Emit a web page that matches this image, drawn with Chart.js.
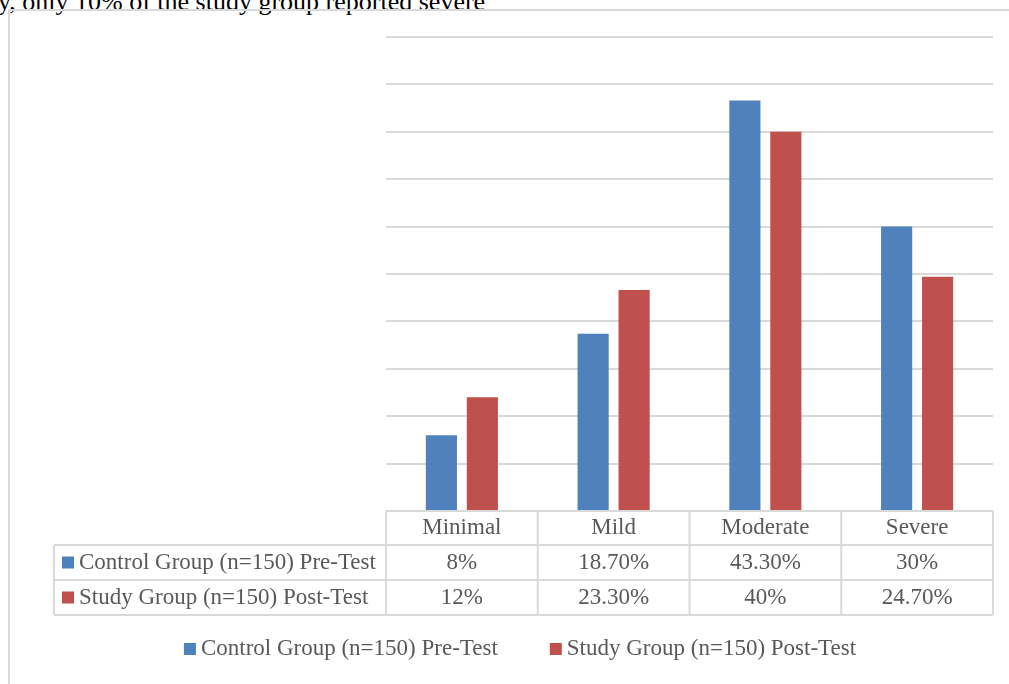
<!DOCTYPE html>
<html>
<head>
<meta charset="utf-8">
<script src="https://cdn.jsdelivr.net/npm/chart.js@4"></script>
<style>
  html, body { margin: 0; padding: 0; background: #fff; overflow: hidden; }
  #wrap { position: relative; width: 1009px; height: 684px; }
  #frame { position: absolute; left: 8px; top: 9px; width: 1010px; height: 700px;
           border-left: 2px solid #d9d9d9; border-top: 2px solid #d9d9d9; }
  #cut { position: absolute; left: -2px; top: -11px; font: 26px "Liberation Serif", serif;
         line-height: 26px; color: #000; white-space: nowrap; }
  canvas { position: absolute; left: 0; top: 0; }
</style>
</head>
<body>
<div id="wrap">
  <div id="cut">y, only 10% of the study group reported severe</div>
  <div id="frame"></div>
  <canvas id="chart" width="1009" height="684"></canvas>
</div>
<script>
// Chart data
const categories = ['Minimal', 'Mild', 'Moderate', 'Severe'];
const seriesNames = ['Control Group (n=150) Pre-Test', 'Study Group (n=150) Post-Test'];
const controlPre = [8, 18.7, 43.3, 30];
const studyPost = [12, 23.3, 40, 24.7];
const controlText = ['8%', '18.70%', '43.30%', '30%'];
const studyText = ['12%', '23.30%', '40%', '24.70%'];
const colors = ['#4F81BD', '#C0504D'];

const textColor = '#595959';
const lineColor = '#d9d9d9';
const font = '23px "Liberation Serif", serif';

// Draws the data table under the bars and the legend at the bottom
const tablePlugin = {
    id: 'dataTable',
    afterDraw(chart) {
        const ctx = chart.ctx;
        const area = chart.chartArea;
        const x = chart.scales.x;
        const half = (x.getPixelForValue(1) - x.getPixelForValue(0)) / 2;
        const top = area.bottom;
        const rows = [top, top + 34, top + 69, top + 104];
        const labelLeft = 54;

        ctx.save();
        ctx.strokeStyle = lineColor;
        ctx.lineWidth = 2;
        ctx.beginPath();
        // horizontal lines
        ctx.moveTo(area.left, rows[0]); ctx.lineTo(area.right, rows[0]);
        for (let r = 1; r < rows.length; r++) {
            ctx.moveTo(labelLeft, rows[r]); ctx.lineTo(area.right, rows[r]);
        }
        // vertical lines
        ctx.moveTo(labelLeft, rows[1]); ctx.lineTo(labelLeft, rows[3]);
        categories.forEach((c, i) => {
            const l = x.getPixelForValue(i) - half;
            ctx.moveTo(l, rows[0]); ctx.lineTo(l, rows[3]);
        });
        ctx.moveTo(area.right, rows[0]); ctx.lineTo(area.right, rows[3]);
        ctx.stroke();

        ctx.font = font;
        ctx.fillStyle = textColor;
        ctx.textAlign = 'center';
        ctx.textBaseline = 'middle';
        categories.forEach((c, i) => {
            const cx = x.getPixelForValue(i);
            ctx.fillText(c, cx, (rows[0] + rows[1]) / 2);
            ctx.fillText(controlText[i], cx, (rows[1] + rows[2]) / 2);
            ctx.fillText(studyText[i], cx, (rows[2] + rows[3]) / 2);
        });

        // row labels with colour keys
        ctx.textAlign = 'left';
        seriesNames.forEach((name, s) => {
            const cy = (rows[s + 1] + rows[s + 2]) / 2;
            ctx.fillStyle = colors[s];
            ctx.fillRect(62, cy - 6, 12, 12);
            ctx.fillStyle = textColor;
            ctx.fillText(name, 79, cy);
        });

        // legend
        const w0 = ctx.measureText(seriesNames[0]).width;
        const w1 = ctx.measureText(seriesNames[1]).width;
        const total = 17 + w0 + 52 + 17 + w1;
        let lx = 520 - total / 2;
        const ly = 649;
        seriesNames.forEach((name, s) => {
            ctx.fillStyle = colors[s];
            ctx.fillRect(lx, ly - 6, 12, 12);
            ctx.fillStyle = textColor;
            ctx.fillText(name, lx + 17, ly);
            lx += 17 + (s === 0 ? w0 : w1) + 52;
        });
        ctx.restore();
    }
};

new Chart(document.getElementById('chart').getContext('2d'), {
    type: 'bar',
    data: {
        labels: categories,
        datasets: [{
            label: seriesNames[0],
            data: controlPre,
            backgroundColor: colors[0],
            barPercentage: 0.76,
            categoryPercentage: 0.54
        }, {
            label: seriesNames[1],
            data: studyPost,
            backgroundColor: colors[1],
            barPercentage: 0.76,
            categoryPercentage: 0.54
        }]
    },
    options: {
        responsive: false,
        animation: false,
        layout: { padding: { left: 386, right: 16, top: 37, bottom: 173 } },
        plugins: { legend: { display: false }, tooltip: { enabled: false } },
        scales: {
            x: { display: false },
            y: {
                min: 0,
                max: 50,
                ticks: { display: false, stepSize: 5 },
                grid: { color: lineColor, lineWidth: 2, drawTicks: false },
                border: { display: false }
            }
        }
    },
    plugins: [tablePlugin]
});
</script>
</body>
</html>
